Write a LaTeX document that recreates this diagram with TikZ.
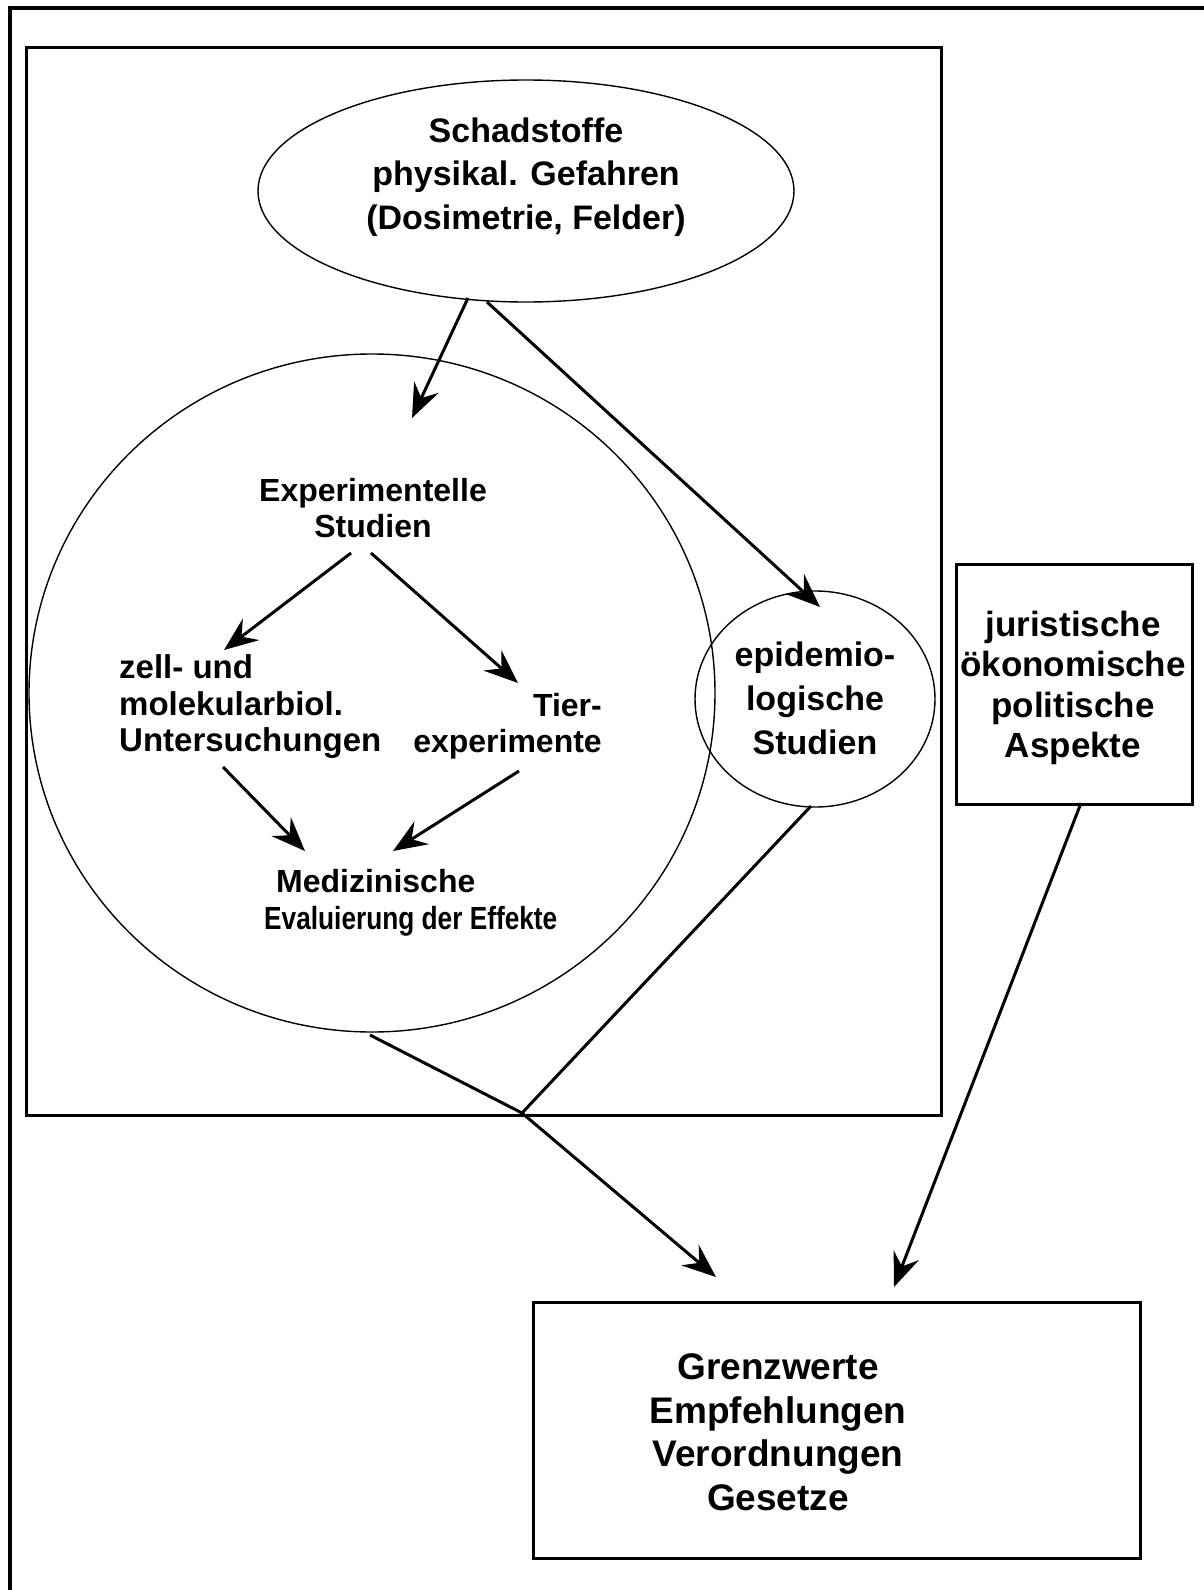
\documentclass[tikz,border=0pt]{standalone}
\usepackage{fontspec}
\setmainfont{Liberation Sans}
\usetikzlibrary{arrows.meta,shapes.geometric}
\tikzset{
  lbl/.style={inner sep=0pt, font=\bfseries, align=center},
  conn/.style={line width=3pt, -{Stealth[length=34pt,width=27pt,inset=12pt]}},
  plain/.style={line width=3pt},
  shapeline/.style={draw, line width=1.4pt, inner sep=0pt},
  boxline/.style={draw, line width=2.6pt, inner sep=0pt, rectangle}
}
\begin{document}
\begin{tikzpicture}[x=1pt,y=-1pt]
\useasboundingbox (0,0) rectangle (1203,1590);
% outer frame (left and top only)
\draw[line width=4pt] (10,1600) -- (10,8) -- (1210,8);
% inner box
\node[boxline, minimum width=915pt, minimum height=1068pt, anchor=north west] (inner) at (25,46) {};
% shapes
\node[shapeline, ellipse, minimum width=536pt, minimum height=222pt] (top) at (526,191) {};
\node[shapeline, ellipse, minimum width=686pt, minimum height=678pt] (big) at (372,693) {};
\node[shapeline, ellipse, minimum width=240pt, minimum height=216pt] (epi) at (815,699) {};
\node[boxline, minimum width=236pt, minimum height=240pt, anchor=north west] (jur) at (955,563) {};
\node[boxline, minimum width=607pt, minimum height=256pt, anchor=north west] (grenz) at (532,1301) {};
% texts
\node[lbl, font=\bfseries\fontsize{34}{43.5}\selectfont] (toptxt) at (526,177) {Schadstoffe\\physikal. Gefahren\\(Dosimetrie, Felder)};
\node[lbl, font=\bfseries\fontsize{32}{36.5}\selectfont] (exp) at (373,508) {Experimentelle\\Studien};
\node[lbl, align=left, anchor=west, font=\bfseries\fontsize{33}{36.5}\selectfont] (zell) at (119,707) {zell- und\\molekularbiol.\\Untersuchungen};
\node[lbl, align=right, anchor=east, font=\bfseries\fontsize{32}{36.5}\selectfont] (tier) at (602,726) {Tier-\\experimente};
\node[lbl, align=left, anchor=west, font=\bfseries\fontsize{32}{37}\selectfont] (med) at (264,903) {\hspace*{12pt}Medizinische\\\scalebox{0.82}[1]{Evaluierung der Effekte}};
\node[lbl, font=\bfseries\fontsize{34}{44}\selectfont] (epitxt) at (815,698) {epidemio-\\logische\\Studien};
\node[lbl, font=\bfseries\fontsize{35}{40.5}\selectfont] (jurtxt) at (1073,688) {juristische\\ökonomische\\politische\\Aspekte};
\node[lbl, font=\bfseries\fontsize{37}{43.5}\selectfont] (grenztxt) at (778,1432) {Grenzwerte\\Empfehlungen\\Verordnungen\\Gesetze};
% connector end points
\coordinate (a1s) at (468,298);
\coordinate (a1e) at (412,418);
\coordinate (a2s) at (487,302);
\coordinate (a2e) at (820,607);
\coordinate (a3s) at (351,553);
\coordinate (a3e) at (224,650);
\coordinate (a4s) at (371,553);
\coordinate (a4e) at (518,683);
\coordinate (a5s) at (223,767);
\coordinate (a5e) at (305,851);
\coordinate (a6s) at (519,771);
\coordinate (a6e) at (393,851);
\coordinate (b1) at (370,1035);
\coordinate (b2) at (811,806);
\coordinate (J) at (522,1113);
\coordinate (a9e) at (716,1277);
\coordinate (a10s) at (1081,803);
\coordinate (a10e) at (894,1287);
% connectors
\draw[conn] (a1s) -- (a1e);
\draw[conn] (a2s) -- (a2e);
\draw[conn] (a3s) -- (a3e);
\draw[conn] (a4s) -- (a4e);
\draw[conn] (a5s) -- (a5e);
\draw[conn] (a6s) -- (a6e);
\draw[plain] (b1) -- (J);
\draw[plain] (b2) -- (J);
\draw[conn] (J) -- (a9e);
\draw[conn] (a10s) -- (a10e);
\end{tikzpicture}
\end{document}
